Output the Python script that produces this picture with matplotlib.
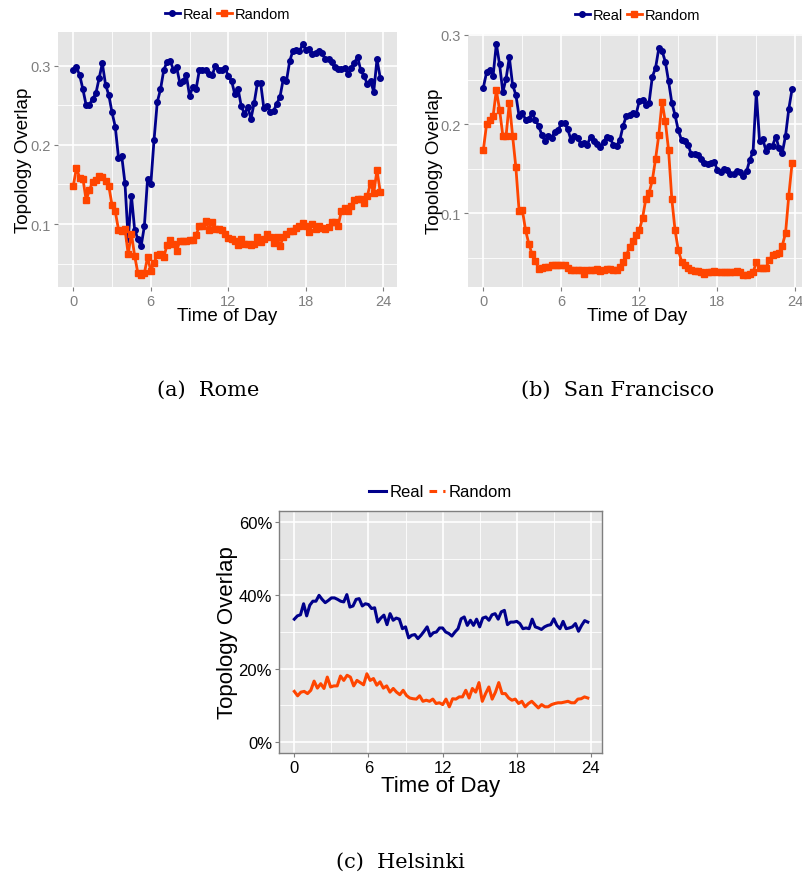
import numpy as np
import matplotlib.pyplot as plt
from matplotlib.lines import Line2D
from matplotlib.ticker import MultipleLocator, FuncFormatter

plt.rcParams['font.family'] = ['Liberation Sans', 'DejaVu Sans']

BLUE = '#00008B'
ORANGE = '#FF4500'

# topology overlap, one value every 15 minutes
rome_real = [0.295, 0.298, 0.288, 0.270, 0.250, 0.251, 0.258, 0.265, 0.284, 0.303,
             0.276, 0.263, 0.241, 0.223, 0.184, 0.186, 0.152, 0.081, 0.136, 0.093,
             0.081, 0.072, 0.097, 0.157, 0.150, 0.206, 0.254, 0.270, 0.294, 0.305,
             0.306, 0.295, 0.298, 0.278, 0.281, 0.288, 0.262, 0.273, 0.270, 0.294,
             0.295, 0.295, 0.290, 0.288, 0.300, 0.295, 0.295, 0.297, 0.287, 0.281,
             0.264, 0.271, 0.249, 0.239, 0.248, 0.233, 0.253, 0.278, 0.278, 0.246,
             0.249, 0.242, 0.243, 0.252, 0.261, 0.283, 0.281, 0.306, 0.319, 0.320,
             0.318, 0.327, 0.320, 0.321, 0.315, 0.316, 0.319, 0.316, 0.308, 0.309,
             0.305, 0.298, 0.296, 0.296, 0.297, 0.290, 0.297, 0.304, 0.311, 0.294,
             0.287, 0.277, 0.281, 0.267, 0.308, 0.285]
rome_rand = [0.148, 0.171, 0.158, 0.157, 0.130, 0.143, 0.153, 0.156, 0.161, 0.160,
             0.155, 0.148, 0.124, 0.116, 0.093, 0.091, 0.094, 0.062, 0.088, 0.060,
             0.038, 0.036, 0.038, 0.058, 0.041, 0.051, 0.061, 0.062, 0.058, 0.073,
             0.080, 0.075, 0.066, 0.079, 0.079, 0.079, 0.080, 0.080, 0.086, 0.097,
             0.098, 0.104, 0.093, 0.103, 0.094, 0.094, 0.093, 0.088, 0.083, 0.081,
             0.078, 0.074, 0.081, 0.075, 0.075, 0.074, 0.075, 0.084, 0.077, 0.081,
             0.088, 0.084, 0.076, 0.084, 0.072, 0.084, 0.088, 0.091, 0.091, 0.095,
             0.097, 0.101, 0.097, 0.090, 0.100, 0.094, 0.098, 0.095, 0.094, 0.096,
             0.102, 0.103, 0.098, 0.117, 0.120, 0.117, 0.123, 0.130, 0.132, 0.132,
             0.127, 0.135, 0.152, 0.139, 0.168, 0.141]

sf_real = [0.241, 0.258, 0.261, 0.254, 0.290, 0.267, 0.236, 0.251, 0.275, 0.244,
           0.233, 0.209, 0.213, 0.205, 0.206, 0.212, 0.205, 0.198, 0.188, 0.181,
           0.187, 0.185, 0.191, 0.193, 0.201, 0.201, 0.194, 0.182, 0.187, 0.184,
           0.178, 0.179, 0.177, 0.186, 0.181, 0.178, 0.174, 0.180, 0.186, 0.184,
           0.177, 0.176, 0.182, 0.198, 0.209, 0.210, 0.213, 0.211, 0.226, 0.227,
           0.222, 0.224, 0.253, 0.263, 0.285, 0.282, 0.270, 0.248, 0.224, 0.210,
           0.193, 0.182, 0.181, 0.177, 0.166, 0.166, 0.165, 0.161, 0.157, 0.155,
           0.157, 0.158, 0.149, 0.146, 0.150, 0.149, 0.144, 0.144, 0.147, 0.146,
           0.142, 0.147, 0.160, 0.169, 0.235, 0.181, 0.183, 0.170, 0.176, 0.176,
           0.186, 0.173, 0.168, 0.187, 0.217, 0.239]
sf_rand = [0.171, 0.200, 0.205, 0.209, 0.238, 0.216, 0.187, 0.187, 0.224, 0.187,
           0.152, 0.103, 0.104, 0.081, 0.066, 0.054, 0.047, 0.038, 0.039, 0.040,
           0.040, 0.042, 0.042, 0.042, 0.042, 0.042, 0.039, 0.036, 0.036, 0.036,
           0.036, 0.032, 0.036, 0.037, 0.037, 0.038, 0.035, 0.037, 0.038, 0.038,
           0.037, 0.036, 0.040, 0.045, 0.053, 0.062, 0.069, 0.076, 0.081, 0.095,
           0.116, 0.123, 0.137, 0.161, 0.188, 0.225, 0.203, 0.171, 0.116, 0.081,
           0.059, 0.046, 0.042, 0.039, 0.036, 0.035, 0.035, 0.034, 0.032, 0.034,
           0.034, 0.035, 0.034, 0.034, 0.034, 0.034, 0.034, 0.034, 0.035, 0.034,
           0.031, 0.031, 0.032, 0.034, 0.045, 0.039, 0.039, 0.039, 0.048, 0.053,
           0.055, 0.056, 0.064, 0.078, 0.120, 0.156]

hel_real = [0.335, 0.344, 0.347, 0.377, 0.344, 0.373, 0.384, 0.384, 0.400, 0.389,
            0.380, 0.386, 0.393, 0.393, 0.389, 0.384, 0.382, 0.402, 0.368, 0.371,
            0.389, 0.391, 0.371, 0.377, 0.375, 0.364, 0.366, 0.327, 0.338, 0.346,
            0.320, 0.350, 0.332, 0.338, 0.335, 0.309, 0.314, 0.284, 0.291, 0.293,
            0.282, 0.291, 0.302, 0.314, 0.289, 0.298, 0.300, 0.311, 0.311, 0.300,
            0.296, 0.289, 0.300, 0.309, 0.336, 0.341, 0.318, 0.332, 0.318, 0.335,
            0.314, 0.338, 0.341, 0.332, 0.347, 0.350, 0.335, 0.355, 0.359, 0.320,
            0.327, 0.327, 0.329, 0.323, 0.309, 0.311, 0.309, 0.335, 0.314, 0.311,
            0.307, 0.314, 0.318, 0.320, 0.336, 0.318, 0.309, 0.329, 0.309, 0.311,
            0.314, 0.323, 0.302, 0.318, 0.331, 0.327]
hel_rand = [0.138, 0.126, 0.136, 0.138, 0.132, 0.141, 0.166, 0.147, 0.159, 0.146,
            0.177, 0.150, 0.153, 0.153, 0.180, 0.168, 0.182, 0.177, 0.153, 0.168,
            0.162, 0.156, 0.186, 0.168, 0.173, 0.155, 0.164, 0.147, 0.153, 0.136,
            0.146, 0.136, 0.129, 0.141, 0.127, 0.120, 0.118, 0.117, 0.126, 0.111,
            0.114, 0.111, 0.117, 0.105, 0.107, 0.102, 0.117, 0.096, 0.118, 0.117,
            0.123, 0.123, 0.141, 0.120, 0.146, 0.136, 0.162, 0.111, 0.132, 0.150,
            0.117, 0.136, 0.162, 0.132, 0.132, 0.120, 0.114, 0.117, 0.105, 0.111,
            0.096, 0.105, 0.111, 0.102, 0.093, 0.102, 0.096, 0.096, 0.102, 0.105,
            0.107, 0.107, 0.109, 0.111, 0.107, 0.107, 0.117, 0.118, 0.123, 0.120]

W, H = 802, 879
fig = plt.figure(figsize=(W / 100, H / 100), dpi=100)


def panel(l, t, r, b):
    return fig.add_axes([l / W, 1 - b / H, (r - l) / W, (b - t) / H])


def style(ax, labelcolor, tick_fs):
    ax.set_facecolor('#E5E5E5')
    for s in ax.spines.values():
        s.set_visible(False)
    ax.xaxis.set_major_locator(MultipleLocator(6))
    ax.xaxis.set_minor_locator(MultipleLocator(3))
    ax.grid(which='major', color='white', lw=1.2)
    ax.grid(which='minor', color='white', lw=0.6)
    ax.set_axisbelow(True)
    ax.tick_params(which='major', length=3, color='#7F7F7F', labelcolor=labelcolor,
                   labelsize=tick_fs, pad=2)
    ax.tick_params(which='minor', length=0)


def hours(vals):
    return np.linspace(0, 23.75, len(vals))


def marker_panel(ax, real, rand, ylim, xlim, ylab_x, xlab_y, leg_y):
    ax.plot(hours(real), real, color=BLUE, lw=2, marker='o', ms=4)
    ax.plot(hours(rand), rand, color=ORANGE, lw=2, marker='s', ms=5)
    ax.set_xlim(*xlim)
    ax.set_ylim(*ylim)
    style(ax, '#7F7F7F', 10.5)
    ax.yaxis.set_major_locator(MultipleLocator(0.1))
    ax.yaxis.set_minor_locator(MultipleLocator(0.05))
    ax.yaxis.set_major_formatter(FuncFormatter(lambda v, p: '%.1f' % v))
    ax.set_ylabel('Topology Overlap', fontsize=13.5)
    ax.yaxis.set_label_coords(ylab_x, 0.5)
    ax.set_xlabel('Time of Day', fontsize=13.5)
    ax.xaxis.set_label_coords(0.5, xlab_y)
    handles = [Line2D([], [], color=BLUE, lw=2, marker='o', ms=4),
               Line2D([], [], color=ORANGE, lw=2, marker='s', ms=5)]
    ax.legend(handles, ['Real', 'Random'], loc='center', bbox_to_anchor=(0.5, leg_y),
              ncol=2, frameon=False, fontsize=10.5, handlelength=1.0, handletextpad=0.2,
              columnspacing=0.3, borderpad=0)


# (a) Rome
ax1 = panel(58, 33, 397, 288)
marker_panel(ax1, rome_real, rome_rand, (0.0205, 0.3426), (-1.18, 25.05), -0.077, -0.078, 1.07)

# (b) San Francisco, panel runs past the right edge of the page
ax2 = panel(468, 35, 807, 288)
marker_panel(ax2, sf_real, sf_rand, (0.0175, 0.301), (-1.18, 24.9), -0.074, -0.078, 1.075)

# (c) Helsinki
ax3 = panel(279, 512, 602, 754)
ax3.plot(hours(hel_real), hel_real, color=BLUE, lw=2.2)
ax3.plot(hours(hel_rand), hel_rand, color=ORANGE, lw=2.2)
ax3.set_xlim(-1.24, 24.9)
ax3.set_ylim(-0.03, 0.63)
style(ax3, 'black', 12)
for s in ax3.spines.values():
    s.set_visible(True)
    s.set_color('#7F7F7F')
    s.set_linewidth(1)
ax3.yaxis.set_major_locator(MultipleLocator(0.2))
ax3.yaxis.set_minor_locator(MultipleLocator(0.1))
ax3.yaxis.set_major_formatter(FuncFormatter(lambda v, p: '%d%%' % round(v * 100)))
ax3.set_ylabel('Topology Overlap', fontsize=16)
ax3.yaxis.set_label_coords(-0.127, 0.5)
ax3.set_xlabel('Time of Day', fontsize=16)
ax3.xaxis.set_label_coords(0.5, -0.09)
handles = [Line2D([], [], color=BLUE, lw=2.2),
           Line2D([], [], color=ORANGE, lw=2.2, ls=(0, (2.5, 2)))]
ax3.legend(handles, ['Real', 'Random'], loc='center', bbox_to_anchor=(0.5, 1.079),
           ncol=2, frameon=False, fontsize=12, handlelength=1.0, handletextpad=0.2,
           columnspacing=0.3, borderpad=0)

# sub-figure captions
cap = dict(ha='center', va='center', fontsize=15, family='DejaVu Serif')
fig.text(208 / W, 1 - 390 / H, '(a)  Rome', **cap)
fig.text(618 / W, 1 - 390 / H, '(b)  San Francisco', **cap)
fig.text(400 / W, 1 - 862 / H, '(c)  Helsinki', **cap)

fig.savefig('out.png', dpi=100)
